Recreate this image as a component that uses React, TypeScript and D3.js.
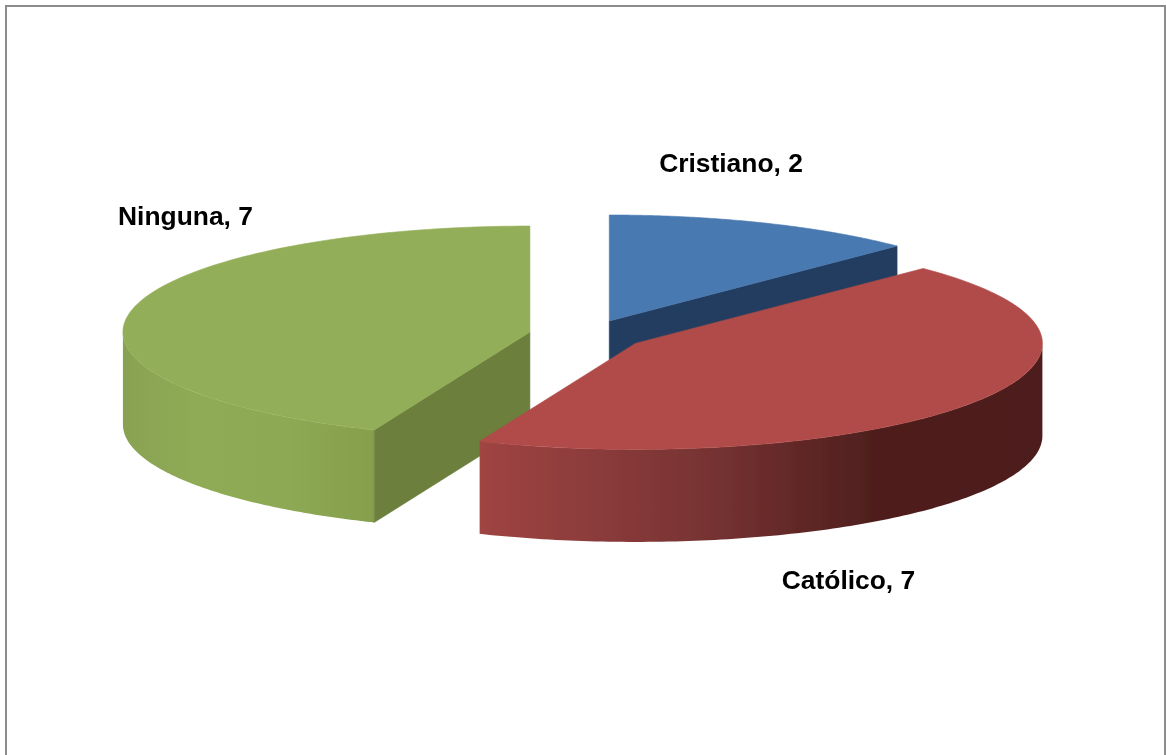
import React from "react";
import * as d3 from "d3";

const categories = ["Cristiano", "Católico", "Ninguna"];
const values = [2, 7, 7];
const topColors = ["#4a79b1", "#b04b48", "#93ae58"];
const edgeColors = ["#243e60", "#5a2524", "#6d7f3c"];

const W = 1166, H = 755;
const CX = 587, CY = 335, RX = 407, RY = 106, DEPTH = 92.5, EXPLODE = 0.143;
const labelPos: [number, number][] = [[731, 172], [848.5, 589], [185.5, 225]];
const drawOrder = [0, 2, 1];

type Pt = [number, number];

export default function App() {
  const arcs = d3.pie<number>().sort(null).value(d => d)(values);
  const line = d3.line<Pt>();

  const shapes = arcs.map((a, i) => {
    const mid = (a.startAngle + a.endAngle) / 2;
    const cx = CX + EXPLODE * RX * Math.sin(mid);
    const cy = CY - EXPLODE * RY * Math.cos(mid);
    const p = (t: number, dz = 0): Pt => [cx + RX * Math.sin(t), cy - RY * Math.cos(t) + dz];
    const sample = (t0: number, t1: number, dz = 0): Pt[] =>
      d3.range(0, 121).map(k => p(t0 + ((t1 - t0) * k) / 120, dz));
    const top = line([[cx, cy], ...sample(a.startAngle, a.endAngle)])! + "Z";
    const wallStart = Math.max(a.startAngle, Math.PI / 2);
    const wallEnd = Math.min(a.endAngle, (3 * Math.PI) / 2);
    const wall = wallEnd > wallStart
      ? line([...sample(wallStart, wallEnd), ...sample(wallEnd, wallStart, DEPTH)])! + "Z"
      : null;
    const faces: string[] = [];
    const cut = (t: number) => line([[cx, cy], p(t), p(t, DEPTH), [cx, cy + DEPTH]])! + "Z";
    if (i === 0) faces.push(cut(a.endAngle));
    if (i === 2) faces.push(cut(a.startAngle));
    return { top, wall, faces, i };
  });

  return (
    <svg width={W} height={H} style={{ position: "fixed", left: 0, top: 0, background: "#fff" }}>
      <defs>
        <filter id="soft" x="-5%" y="-5%" width="110%" height="110%">
          <feGaussianBlur stdDeviation="0.55" />
        </filter>
        <linearGradient id="wall1" gradientUnits="userSpaceOnUse" x1="478" x2="1042" y1="0" y2="0">
          <stop offset="0" stopColor="#a04443" />
          <stop offset="0.4" stopColor="#783333" />
          <stop offset="0.7" stopColor="#4f1f1e" />
          <stop offset="1" stopColor="#4e1f1e" />
        </linearGradient>
        <linearGradient id="wall2" gradientUnits="userSpaceOnUse" x1="123" x2="374" y1="0" y2="0">
          <stop offset="0" stopColor="#88a252" />
          <stop offset="0.3" stopColor="#90ab56" />
          <stop offset="0.65" stopColor="#8ea954" />
          <stop offset="1" stopColor="#859f4c" />
        </linearGradient>
      </defs>
      <g filter="url(#soft)">
        <path d={`M6,${H + 4}V6H1165V${H + 4}`} fill="none" stroke="#8c8c8c" strokeWidth={2} />
        {drawOrder.map(k => shapes[k]).map(s => (
          <g key={categories[s.i]}>
            {s.wall && <path d={s.wall} fill={s.i === 0 ? edgeColors[0] : `url(#wall${s.i})`} />}
            {s.faces.map((d, k) => <path key={k} d={d} fill={edgeColors[s.i]} stroke={edgeColors[s.i]} strokeWidth={0.6} />)}
            <path d={s.top} fill={topColors[s.i]} stroke={topColors[s.i]} strokeWidth={0.6} />
          </g>
        ))}
        {categories.map((c, i) => (
          <text key={c} x={labelPos[i][0]} y={labelPos[i][1]} textAnchor="middle"
            fontFamily="'Liberation Sans', Arial, sans-serif" fontWeight="bold" fontSize={26.4} fill="#000">
            {`${c}, ${values[i]}`}
          </text>
        ))}
      </g>
    </svg>
  );
}
